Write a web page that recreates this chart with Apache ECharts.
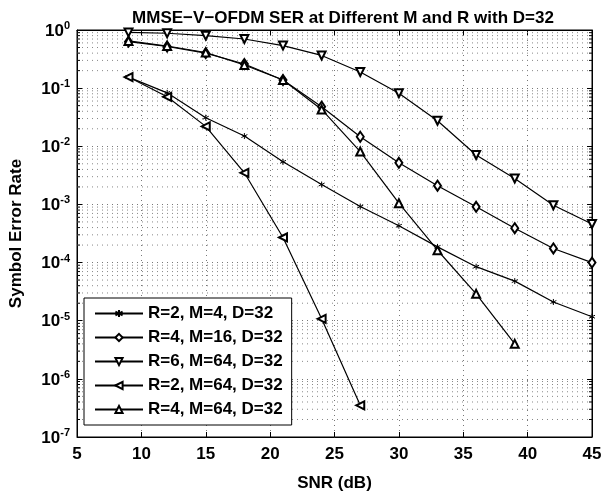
<!DOCTYPE html>
<html>
<head>
<meta charset="utf-8">
<script src="https://cdn.jsdelivr.net/npm/echarts@6/dist/echarts.min.js"></script>
<style>
html,body{margin:0;padding:0;background:#fff;}
#chart{width:605px;height:491px;}
</style>
</head>
<body>
<div id="chart"></div>
<script>
// ---- data ----
const titleText = 'MMSE\u2212V\u2212OFDM SER at Different M and R with D=32';
const xName = 'SNR (dB)';
const yName = 'Symbol Error Rate';
const xTicks = [5, 10, 15, 20, 25, 30, 35, 40, 45];
const yExponents = [0, -1, -2, -3, -4, -5, -6, -7];
const minorMultipliers = [2, 3, 4, 5, 6, 7, 8, 9];

const seriesNames = ['R=2, M=4, D=32', 'R=4, M=16, D=32', 'R=6, M=64, D=32', 'R=2, M=64, D=32', 'R=4, M=64, D=32'];

const snrR2M4 = [9, 12, 15, 18, 21, 24, 27, 30, 33, 36, 39, 42, 45];
const serR2M4 = [0.155, 0.083, 0.031, 0.015, 0.0054, 0.0022, 9.2e-4, 4.3e-4, 1.86e-4, 8.5e-5, 4.8e-5, 2.1e-5, 1.17e-5];

const snrR4M16 = [9, 12, 15, 18, 21, 24, 27, 30, 33, 36, 39, 42, 45];
const serR4M16 = [0.63, 0.52, 0.40, 0.26, 0.138, 0.048, 0.0146, 0.0052, 0.0021, 9.1e-4, 3.9e-4, 1.75e-4, 1.0e-4];

const snrR6M64 = [9, 12, 15, 18, 21, 24, 27, 30, 33, 36, 39, 42, 45];
const serR6M64 = [0.91, 0.88, 0.80, 0.70, 0.54, 0.365, 0.19, 0.082, 0.0275, 0.0071, 0.0028, 9.7e-4, 4.6e-4];

const snrR2M64 = [9, 12, 15, 18, 21, 24, 27];
const serR2M64 = [0.155, 0.071, 0.022, 0.0035, 2.7e-4, 1.08e-5, 3.5e-7];

const snrR4M64 = [9, 12, 15, 18, 21, 24, 27, 30, 33, 36, 39];
const serR4M64 = [0.65, 0.53, 0.41, 0.25, 0.138, 0.043, 0.0081, 0.00105, 1.63e-4, 2.9e-5, 4.0e-6];

// ---- build ----
const FONT = '"Liberation Sans", Arial, sans-serif';
const xMin = xTicks[0], xMax = xTicks[xTicks.length - 1];
const yMin = Math.pow(10, Math.min.apply(null, yExponents));
const yMax = Math.pow(10, Math.max.apply(null, yExponents));

const minorValues = [];
yExponents.forEach(function (e) {
  if (e === Math.max.apply(null, yExponents)) return;
  minorMultipliers.forEach(function (m) { minorValues.push(m * Math.pow(10, e)); });
});

function pairs(xs, ys) { return xs.map(function (x, i) { return [x, ys[i]]; }); }

const asterisk = 'path://M5,0L5,10M0.67,2.5L9.33,7.5M0.67,7.5L9.33,2.5';

function lineSeries(name, xs, ys, symbol, size, rotate) {
  return {
    name: name,
    type: 'line',
    data: pairs(xs, ys),
    symbol: symbol,
    symbolSize: size,
    symbolRotate: rotate || 0,
    showSymbol: true,
    animation: false,
    z: 5,
    lineStyle: { color: '#000', width: 1.2 },
    itemStyle: { color: '#000', borderColor: '#000', borderWidth: 1 },
    emphasis: { disabled: true }
  };
}

const gridDot = { color: '#777', width: 1, type: [1, 4] };

const option = {
  backgroundColor: '#fff',
  animation: false,
  title: {
    text: titleText,
    left: 338, top: 5, textAlign: 'center',
    textStyle: { fontFamily: FONT, fontWeight: 'bold', fontSize: 17, color: '#000' }
  },
  grid: { left: 77, right: 13, top: 30, bottom: 54, show: true, borderColor: '#000', borderWidth: 1, backgroundColor: 'transparent', outerBoundsMode: 'none' },
  legend: {
    orient: 'vertical',
    left: 84, top: 298,
    data: seriesNames,
    backgroundColor: '#fff',
    borderColor: '#000', borderWidth: 1,
    padding: [7, 9, 7, 10],
    itemWidth: 48, itemHeight: 9, itemGap: 7,
    selectedMode: false,
    textStyle: { fontFamily: FONT, fontWeight: 'bold', fontSize: 17, color: '#000', lineHeight: 17 }
  },
  xAxis: [{
    type: 'value', min: xMin, max: xMax, interval: 5,
    name: xName, nameLocation: 'middle', nameGap: 38,
    nameTextStyle: { fontFamily: FONT, fontWeight: 'bold', fontSize: 17, color: '#000' },
    axisLine: { show: true, onZero: false, lineStyle: { color: '#000', width: 1 } },
    axisTick: { show: true, inside: true, length: 5, lineStyle: { color: '#000' } },
    axisLabel: { fontFamily: FONT, fontWeight: 'bold', fontSize: 17, color: '#000', margin: 9 },
    splitLine: { show: true, lineStyle: gridDot }
  }, {
    type: 'value', min: xMin, max: xMax, interval: 5, position: 'top',
    axisLine: { show: true, onZero: false, lineStyle: { color: '#000', width: 1 } },
    axisTick: { show: true, inside: true, length: 5, lineStyle: { color: '#000' } },
    axisLabel: { show: false }, splitLine: { show: false }
  }],
  yAxis: [{
    type: 'log', logBase: 10, min: yMin, max: yMax,
    name: yName, nameLocation: 'middle', nameGap: 52,
    nameTextStyle: { fontFamily: FONT, fontWeight: 'bold', fontSize: 17, color: '#000' },
    axisLine: { show: true, onZero: false, lineStyle: { color: '#000', width: 1 } },
    axisTick: { show: true, inside: true, length: 5, lineStyle: { color: '#000' } },
    axisLabel: {
      margin: 7,
      formatter: function (v) {
        const e = Math.round(Math.log10(v));
        return '{b|10}{s|' + e + '}';
      },
      rich: {
        b: { fontFamily: FONT, fontWeight: 'bold', fontSize: 17, color: '#000', verticalAlign: 'bottom', padding: [2, 0, 0, 0] },
        s: { fontFamily: FONT, fontWeight: 'bold', fontSize: 11, color: '#000', verticalAlign: 'top', lineHeight: 11 }
      }
    },
    splitLine: { show: true, lineStyle: gridDot }
  }, {
    type: 'log', logBase: 10, min: yMin, max: yMax, position: 'right',
    axisLine: { show: true, onZero: false, lineStyle: { color: '#000', width: 1 } },
    axisTick: { show: true, inside: true, length: 5, lineStyle: { color: '#000' } },
    axisLabel: { show: false }, splitLine: { show: false }
  }],
  series: [
    {
      name: 'minorGrid',
      type: 'custom',
      silent: true,
      z: 1,
      data: minorValues.map(function (v) { return [v]; }),
      encode: { y: 0 },
      renderItem: function (params, api) {
        const v = api.value(0);
        const p0 = api.coord([xMin, v]);
        const p1 = api.coord([xMax, v]);
        return {
          type: 'group',
          children: [
            { type: 'line', shape: { x1: p0[0], y1: p0[1], x2: p1[0], y2: p1[1] }, style: { stroke: '#888', lineWidth: 1, lineDash: [1, 4] } },
            { type: 'line', shape: { x1: p0[0], y1: p0[1], x2: p0[0] + 3, y2: p0[1] }, style: { stroke: '#000', lineWidth: 1 } },
            { type: 'line', shape: { x1: p1[0] - 3, y1: p1[1], x2: p1[0], y2: p1[1] }, style: { stroke: '#000', lineWidth: 1 } }
          ]
        };
      }
    },
    lineSeries(seriesNames[0], snrR2M4, serR2M4, asterisk, 6, 0),
    lineSeries(seriesNames[1], snrR4M16, serR4M16, 'emptyDiamond', [7, 10], 0),
    lineSeries(seriesNames[2], snrR6M64, serR6M64, 'emptyTriangle', 8, 180),
    lineSeries(seriesNames[3], snrR2M64, serR2M64, 'emptyTriangle', 8, 90),
    lineSeries(seriesNames[4], snrR4M64, serR4M64, 'emptyTriangle', 8, 0)
  ]
};

const chart = echarts.init(document.getElementById('chart'), null, { renderer: 'canvas' });
chart.setOption(option);
</script>
</body>
</html>
